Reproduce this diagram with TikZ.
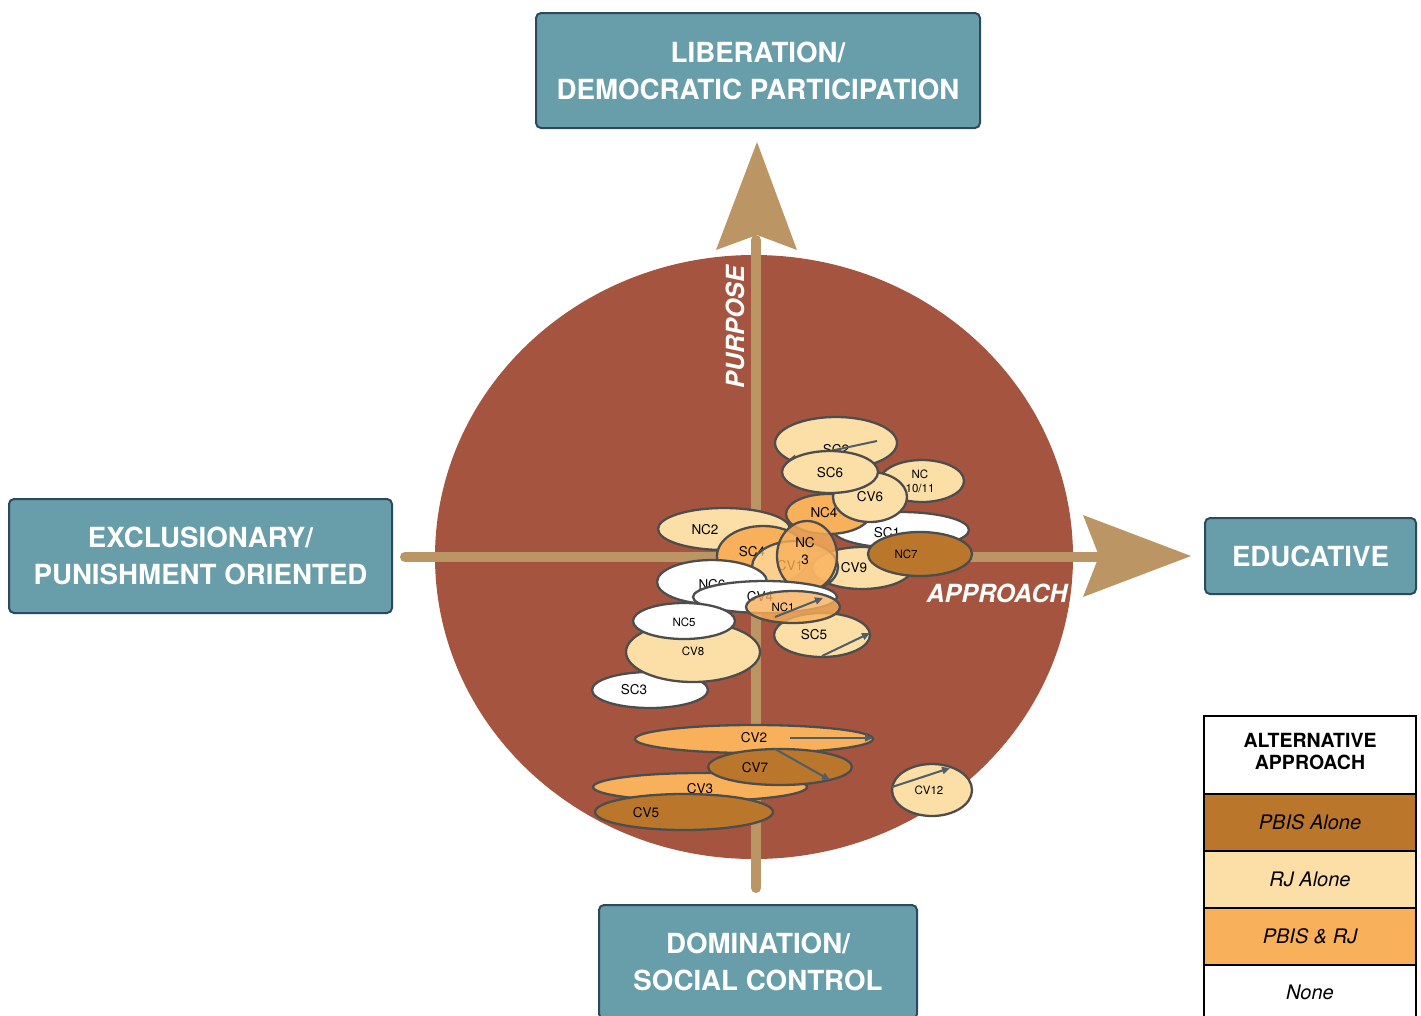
\documentclass[tikz,border=0pt]{standalone}
\usepackage{fontspec}
\setmainfont{TeX Gyre Heros}
\usetikzlibrary{shapes.geometric,arrows.meta}
\definecolor{circ}{HTML}{A5553F}
\definecolor{axiscol}{HTML}{BB9664}
\definecolor{boxfill}{HTML}{679EA9}
\definecolor{boxline}{HTML}{2D4A5C}
\definecolor{pbis}{HTML}{BA772C}
\definecolor{rjc}{HTML}{FCDFA6}
\definecolor{both}{HTML}{F9B05A}
\definecolor{ellline}{HTML}{4D4D4D}
\definecolor{arrcol}{HTML}{4F5E67}
\begin{document}
\begin{tikzpicture}[x=1pt,y=-1pt,
  ell/.style={ellipse, draw=ellline, line width=2.3pt, inner sep=0pt},
  rj/.style={fill=rjc}, pb/.style={fill=pbis}, bo/.style={fill=both}, no/.style={fill=white},
  lblA/.style={inner sep=0pt, text=black, font=\fontsize{13.5}{15}\selectfont},
  lblB/.style={inner sep=0pt, text=black, font=\fontsize{11.5}{14}\selectfont},
  inarrow/.style={draw=arrcol, line width=2pt, -{Triangle[length=8pt,width=7pt]}},
  bluebox/.style={draw=boxline, fill=boxfill, line width=2pt, rounded corners=5pt, text=white, align=center,
     font=\fontsize{27.7}{37}\selectfont\bfseries, inner sep=0pt},
  legrow/.style={draw=black, line width=2pt, minimum width=212pt, inner sep=0pt, align=center, text=black},
  axislbl/.style={text=white, inner sep=0pt, font=\fontsize{25}{30}\selectfont\bfseries\itshape}
]
\useasboundingbox (0,0) rectangle (1421,1015);
\clip (0,0) rectangle (1421,1015);

% big disc
\fill[circ] (754,557) ellipse [x radius=319pt, y radius=302pt];

% axes
\coordinate (vbot) at (756,888);
\coordinate (vtop) at (756,240);
\coordinate (hleft) at (405,557);
\coordinate (hright) at (1100,557);
\draw[axiscol, line width=10pt, line cap=round] (vbot) -- (vtop);
\draw[axiscol, line width=10pt, line cap=round] (hleft) -- (hright);
\fill[axiscol] (757,142) -- (797,250) -- (757,235) -- (716,250) -- cycle;
\fill[axiscol] (1191,556) -- (1083,597) -- (1099,556) -- (1083,515) -- cycle;

\node[axislbl, rotate=90] (purpose) at (735,327) {PURPOSE};
\node[axislbl] (approach) at (997,593) {APPROACH};

% ellipses
\node[ell, rj, minimum width=122pt, minimum height=52pt] (sc2) at (836,443) {};
\node[lblA] (sc2t) at (836,450) {SC2};
\coordinate (sc2a) at (877,441); \coordinate (sc2b) at (788,460);
\draw[inarrow] (sc2a) -- (sc2b);

\node[ell, rj, minimum width=84pt, minimum height=42pt] (nc1011) at (922,481) {};
\node[lblB, align=center] (nc1011t) at (920,481) {NC\\10/11};

\node[ell, rj, minimum width=132pt, minimum height=42pt] (nc2) at (724,529) {};
\node[lblA] (nc2t) at (705,530) {NC2};

\node[ell, no, minimum width=136pt, minimum height=36pt] (sc1) at (901,530) {};
\node[lblA] (sc1t) at (887,533) {SC1};

\node[ell, rj, minimum width=100pt, minimum height=42pt] (cv9) at (862,568) {};
\node[lblA] (cv9t) at (854,568) {CV9};

\node[ell, pb, minimum width=104pt, minimum height=44pt] (nc7) at (920,554) {};
\node[lblB] (nc7t) at (906,554) {NC7};

\node[ell, bo, minimum width=84pt, minimum height=40pt] (nc4) at (828,514) {};
\node[lblA] (nc4t) at (824,513) {NC4};

\node[ell, rj, minimum width=74pt, minimum height=50pt] (cv6) at (870,497) {};
\node[lblA] (cv6t) at (870,497) {CV6};

\node[ell, rj, minimum width=96pt, minimum height=42pt] (sc6) at (830,472) {};
\node[lblA] (sc6t) at (830,473) {SC6};

\node[ell, bo, minimum width=92pt, minimum height=60pt] (sc4) at (763,556) {};
\node[lblA] (sc4t) at (752,552) {SC4};

\node[ell, rj, fill opacity=0.7, minimum width=86pt, minimum height=52pt] (cv1) at (795,567) {};
\node[lblA] (cv1t) at (790,566) {CV1};

\node[ell, bo, fill opacity=0.8, minimum width=60pt, minimum height=70pt] (nc3) at (807,556) {};
\node[lblA, align=center, font=\fontsize{13.5}{17}\selectfont] (nc3t) at (805,551) {NC\\3};

\node[ell, no, minimum width=110pt, minimum height=44pt] (nc6) at (712,582) {};
\node[lblA] (nc6t) at (712,585) {NC6};

\node[ell, no, minimum width=144pt, minimum height=32pt] (cv4) at (765,597) {};
\node[lblA] (cv4t) at (760,597) {CV4};

\node[ell, no, minimum width=116pt, minimum height=36pt] (sc3) at (650,690) {};
\node[lblA] (sc3t) at (634,690) {SC3};

\node[ell, rj, minimum width=134pt, minimum height=60pt] (cv8) at (693,652) {};
\node[lblB] (cv8t) at (693,651) {CV8};

\node[ell, no, minimum width=102pt, minimum height=36pt] (nc5) at (684,621) {};
\node[lblB] (nc5t) at (684,622) {NC5};

\node[ell, rj, minimum width=96pt, minimum height=44pt] (sc5) at (822,635) {};
\node[lblA] (sc5t) at (814,635) {SC5};
\coordinate (sc5a) at (822,656); \coordinate (sc5b) at (870,633);
\draw[inarrow] (sc5a) -- (sc5b);

\node[ell, bo, fill opacity=0.8, minimum width=94pt, minimum height=32pt] (nc1) at (793,607) {};
\node[lblB] (nc1t) at (783,607) {NC1};
\coordinate (nc1a) at (775,617); \coordinate (nc1b) at (823,598);
\draw[inarrow] (nc1a) -- (nc1b);

\node[ell, bo, minimum width=238pt, minimum height=28pt] (cv2) at (754,739) {};
\node[lblA] (cv2t) at (754,738) {CV2};
\coordinate (cv2a) at (790,738); \coordinate (cv2b) at (873,738);
\draw[inarrow] (cv2a) -- (cv2b);

\node[ell, bo, minimum width=214pt, minimum height=28pt] (cv3) at (700,787) {};
\node[lblA] (cv3t) at (700,789) {CV3};

\node[ell, pb, minimum width=178pt, minimum height=36pt] (cv5) at (684,812) {};
\node[lblA] (cv5t) at (646,813) {CV5};

\node[ell, pb, minimum width=144pt, minimum height=36pt] (cv7) at (780,767) {};
\node[lblA] (cv7t) at (755,768) {CV7};
\coordinate (cv7a) at (775,749); \coordinate (cv7b) at (830,780);
\draw[inarrow] (cv7a) -- (cv7b);

\node[ell, rj, minimum width=80pt, minimum height=52pt] (cv12) at (932,790) {};
\node[lblB] (cv12t) at (929,790) {CV12};
\coordinate (cv12a) at (892,787); \coordinate (cv12b) at (950,768);
\draw[inarrow] (cv12a) -- (cv12b);

% boxes
\node[bluebox, minimum width=444pt, minimum height=115pt] (lib) at (758,70.5) {LIBERATION/\\DEMOCRATIC PARTICIPATION};
\node[bluebox, minimum width=383pt, minimum height=114pt] (excl) at (200.5,556) {EXCLUSIONARY/\\PUNISHMENT ORIENTED};
\node[bluebox, minimum width=211pt, minimum height=76pt] (edu) at (1310.5,556) {EDUCATIVE};
\node[bluebox, minimum width=318pt, minimum height=114pt] (dom) at (758,962) {DOMINATION/\\SOCIAL CONTROL};

% legend
\node[legrow, fill=white, minimum height=78pt] (lhead) at (1310,755) {};
\node[inner sep=0pt, align=center, text=black, font=\fontsize{19.5}{22}\selectfont\bfseries] (lheadt) at (1310,751) {ALTERNATIVE\\APPROACH};
\node[legrow, fill=pbis, minimum height=57pt, font=\fontsize{20}{24}\selectfont\itshape] (lpbis) at (1310,822.5) {PBIS Alone};
\node[legrow, fill=rjc, minimum height=57pt, font=\fontsize{20}{24}\selectfont\itshape] (lrj) at (1310,879.5) {RJ Alone};
\node[legrow, fill=both, minimum height=57pt, font=\fontsize{20}{24}\selectfont\itshape] (lboth) at (1310,936.5) {PBIS \& RJ};
\node[legrow, fill=white, minimum height=80pt] (lnone) at (1310,1005) {};
\node[inner sep=0pt, text=black, font=\fontsize{20}{24}\selectfont\itshape] (lnonet) at (1310,992) {None};
\end{tikzpicture}
\end{document}
